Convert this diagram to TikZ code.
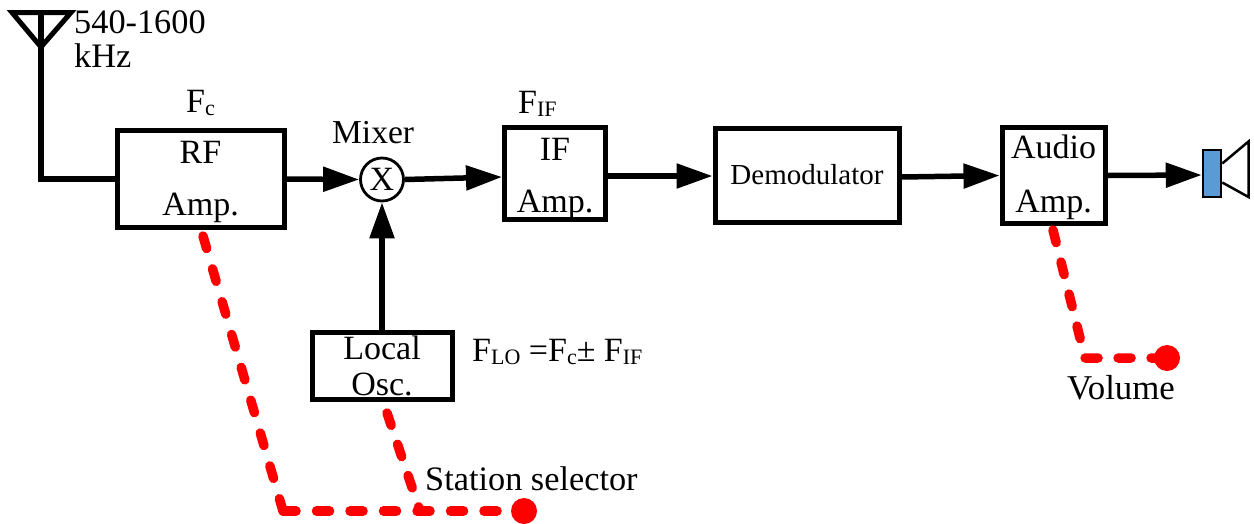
\documentclass[tikz,border=0pt]{standalone}
\usepackage{fontspec}
\setmainfont{Liberation Serif}
\usetikzlibrary{arrows.meta}
\newcommand{\lowtxt}[1]{\raisebox{-3pt}{\fontsize{22}{22}\selectfont #1}}
\newcommand{\topgap}[1]{\rule{0pt}{#1pt}}
\tikzset{
  blockbox/.style={draw=black,line width=5pt,fill=white,inner sep=0pt,align=center,font=\fontsize{34}{52}\selectfont},
  sig/.style={draw=black,line width=5.5pt,-{Triangle[length=36pt,width=24pt]}},
  wire/.style={draw=black,line width=5.5pt},
  redbase/.style={draw={rgb,255:red,255;green,0;blue,0},line width=9.5pt,line cap=round},
  redline/.style={redbase,dash pattern=on 13pt off 20pt},
  redslope/.style={redbase,dash pattern=on 13pt off 21.2pt},
  redflat/.style={redbase,dash pattern=on 13pt off 20.5pt},
  reddot/.style={circle,fill={rgb,255:red,255;green,0;blue,0},minimum size=26pt,inner sep=0pt},
  lab/.style={anchor=base west,inner sep=0pt,font=\fontsize{34.3}{34.3}\selectfont},
  labf/.style={anchor=base west,inner sep=0pt,font=\fontsize{34}{34}\selectfont},
}
\begin{document}
\begin{tikzpicture}[x=1pt,y=-1pt]
\useasboundingbox (0,0) rectangle (1254,523);
% blocks
\node[blockbox,minimum width=167pt,minimum height=97pt] (rf) at (200.5,179) {\topgap{28}RF\\Amp.};
\node[blockbox,minimum width=101pt,minimum height=86pt] (ifa) at (555,173.5) {\topgap{33}IF\\Amp.};
\node[blockbox,minimum width=184pt,minimum height=94pt,font=\fontsize{29}{29}\selectfont] (dem) at (807,175) {Demodulator};
\node[blockbox,minimum width=103pt,minimum height=96pt] (aud) at (1053.5,175.5) {\topgap{28}Audio\\[2pt]Amp.};
\node[blockbox,minimum width=140pt,minimum height=67pt,font=\fontsize{34}{36}\selectfont] (lo) at (382,365.5) {\topgap{25}Local\\Osc.};
\node[circle,draw=black,line width=2.8pt,fill=white,minimum size=43pt,inner sep=0pt,font=\fontsize{34}{34}\selectfont] (mix) at (382,179.5) {X};
% antenna
\coordinate (anttop) at (41,12);
\coordinate (antcorner) at (41,179);
\draw[draw=black,line width=5pt,line join=miter] (12,12.5) -- (71,12.5) -- (41,47) -- cycle;
\draw[wire] (anttop) -- (antcorner) -- (rf.west);
% speaker
\node[draw=black,line width=2.5pt,fill={rgb,255:red,91;green,155;blue,213},minimum width=18pt,minimum height=47pt,inner sep=0pt] (spk) at (1212,173.5) {};
\coordinate (hornA) at (1248.5,141.5);
\coordinate (hornB) at (1248.5,197);
\draw[draw=black,line width=2.5pt,line join=miter] ([yshift=10pt]spk.east) -- (hornA) -- (hornB) -- ([yshift=-9pt]spk.east);
% signal connectors
\draw[sig] (rf.east) -- (mix.west);
\draw[sig] (mix.east) -- ([yshift=-3.5pt]ifa.west);
\draw[sig] ([yshift=-2.5pt]ifa.east) -- ([yshift=-1pt]dem.west);
\draw[sig] ([yshift=-2pt]dem.east) -- (aud.west);
\draw[sig] (aud.east) -- ([yshift=-1.5pt]spk.west);
\draw[sig] (lo.north) -- (mix.south);
% red control lines
\coordinate (r1) at (203,236);
\coordinate (r2) at (283,511);
\coordinate (r3) at (387,413);
\coordinate (r4) at (420,511);
\node[reddot] (sel) at (524,511) {};
\draw[redslope] (r1) -- (r2);
\draw[redflat] (r2) -- (sel.center);
\draw[redline] (r3) -- (r4);
\coordinate (v1) at (1053,230);
\coordinate (v2) at (1085,358);
\node[reddot] (vol) at (1167,358) {};
\draw[redline] (v1) -- (v2) -- (vol.center);
% labels
\node[lab] (t1) at (74,33) {540-1600};
\node[lab] (t2) at (74,67) {kHz};
\node[labf] (t3) at (186,112) {F\lowtxt{c}};
\node[labf] (t4) at (518,113) {F\lowtxt{IF}};
\node[lab,font=\fontsize{33.5}{33.5}\selectfont] (t5) at (332,143) {Mixer};
\node[labf] (t6) at (472,361) {F\lowtxt{LO} =F\lowtxt{c}± F\lowtxt{IF}};
\node[lab] (t7) at (425,490) {Station selector};
\node[lab,font=\fontsize{34.8}{34.8}\selectfont] (t8) at (1067,399) {Volume};
\end{tikzpicture}
\end{document}
